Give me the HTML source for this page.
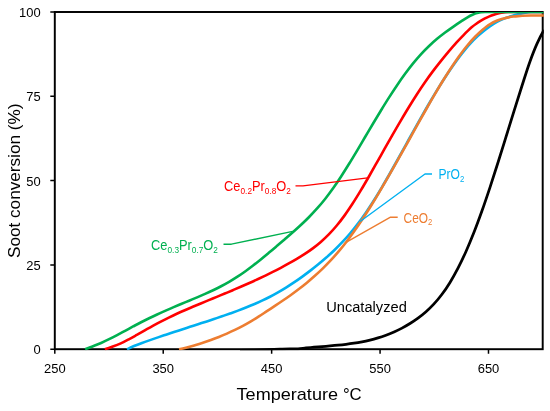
<!DOCTYPE html>
<html><head><meta charset="utf-8"><title>Soot conversion</title>
<style>
html,body{margin:0;padding:0;background:#fff;}
body{width:550px;height:411px;overflow:hidden;font-family:"Liberation Sans",sans-serif;}
svg{display:block;will-change:transform;}
svg text{font-family:"Liberation Sans",sans-serif;}
</style></head><body>
<svg width="550" height="411" viewBox="0 0 550 411">
<rect x="0" y="0" width="550" height="411" fill="#ffffff"/>

<g stroke="#000" fill="none">
<rect x="54.8" y="12" width="487.9" height="337.2" stroke-width="1.95"/>
<path d="M50.3 349.20 H54.8 M50.3 264.90 H54.8 M50.3 180.60 H54.8 M50.3 96.30 H54.8 M50.3 12.00 H54.8 M54.80 349.2 V353.8 M163.22 349.2 V353.8 M271.64 349.2 V353.8 M380.07 349.2 V353.8 M488.49 349.2 V353.8 " stroke-width="1.5"/>
</g>
<defs><clipPath id="pc"><rect x="54.8" y="12.0" width="489.0" height="338.3"/></clipPath></defs>
<g fill="none" stroke-linecap="butt" stroke-linejoin="round" clip-path="url(#pc)">
<path d="M240.00 350.30 C245.00 350.23 250.00 350.12 255.00 350.00 C259.33 349.89 263.67 349.74 268.00 349.60 C272.00 349.47 276.00 349.33 280.00 349.20 C283.33 349.09 286.67 348.96 290.00 348.90 C292.67 348.85 295.33 348.85 298.00 348.79 C300.67 348.72 303.33 348.19 306.00 347.93 C308.67 347.67 311.33 347.44 314.00 347.22 C316.67 346.99 319.33 346.78 322.00 346.57 C324.67 346.35 327.33 346.14 330.00 345.91 C332.67 345.68 335.33 345.45 338.00 345.18 C340.67 344.92 343.33 344.63 346.00 344.30 C348.67 343.98 351.33 343.62 354.00 343.21 C356.67 342.80 359.33 342.34 362.00 341.83 C364.67 341.32 367.33 340.73 370.00 340.09 C372.67 339.45 375.33 338.72 378.00 337.92 C380.67 337.13 383.33 336.23 386.00 335.25 C388.67 334.28 391.33 333.19 394.00 332.02 C396.67 330.84 399.33 329.54 402.00 328.14 C404.67 326.73 407.33 325.20 410.00 323.54 C412.67 321.89 415.33 320.11 418.00 318.16 C420.67 316.21 423.33 314.10 426.00 311.75 C428.67 309.41 431.33 306.81 434.00 303.93 C436.67 301.05 439.33 297.83 442.00 294.28 C444.67 290.73 447.33 286.74 450.00 282.42 C452.67 278.10 455.33 273.27 458.00 268.14 C460.67 263.01 463.33 257.39 466.00 251.45 C468.67 245.50 471.33 239.07 474.00 232.33 C476.67 225.58 479.33 218.31 482.00 210.83 C484.67 203.35 487.33 195.41 490.00 187.37 C492.67 179.33 495.33 170.94 498.00 162.53 C500.67 154.13 503.33 145.49 506.00 136.92 C508.67 128.35 511.33 119.66 514.00 111.13 C516.67 102.61 519.33 94.05 522.00 85.77 C524.67 77.49 527.33 68.77 530.00 61.43 C532.31 55.05 534.63 49.02 536.94 43.88 C539.30 38.66 541.65 33.93 544.00 29.93" stroke="#000000" stroke-width="2.75"/>
<path d="M127.00 349.30 C129.34 348.14 131.67 347.04 134.01 346.05 C136.68 344.92 139.34 343.93 142.01 342.95 C144.68 341.96 147.34 341.04 150.01 340.11 C152.68 339.18 155.34 338.27 158.01 337.36 C160.68 336.46 163.34 335.56 166.01 334.68 C168.68 333.79 171.34 332.92 174.01 332.05 C176.68 331.17 179.34 330.31 182.01 329.45 C184.68 328.58 187.34 327.72 190.01 326.86 C192.68 326.00 195.34 325.14 198.01 324.27 C200.68 323.40 203.34 322.54 206.01 321.66 C208.68 320.79 211.34 319.91 214.01 319.01 C216.68 318.12 219.34 317.22 222.01 316.31 C224.68 315.40 227.34 314.48 230.01 313.53 C232.68 312.59 235.34 311.63 238.01 310.64 C240.68 309.65 243.34 308.64 246.01 307.58 C248.68 306.52 251.34 305.43 254.01 304.28 C256.68 303.14 259.34 301.94 262.01 300.69 C264.68 299.44 267.34 298.13 270.01 296.75 C272.68 295.37 275.34 293.91 278.01 292.39 C280.68 290.87 283.34 289.28 286.01 287.62 C288.68 285.96 291.34 284.23 294.01 282.44 C296.68 280.65 299.34 278.78 302.01 276.86 C304.68 274.94 307.34 272.94 310.01 270.90 C312.68 268.85 315.34 266.74 318.01 264.56 C320.68 262.38 323.34 260.15 326.01 257.81 C328.68 255.47 331.34 253.05 334.01 250.49 C336.68 247.94 339.34 245.27 342.01 242.45 C344.68 239.63 347.34 236.66 350.01 233.52 C352.68 230.39 355.34 227.07 358.01 223.57 C360.68 220.07 363.34 216.34 366.01 212.45 C368.68 208.57 371.34 204.43 374.01 200.21 C376.68 195.98 379.34 191.56 382.01 187.07 C384.68 182.58 387.34 177.93 390.01 173.25 C392.68 168.58 395.34 163.79 398.01 159.00 C400.68 154.22 403.34 149.36 406.01 144.54 C408.68 139.73 411.34 134.88 414.01 130.10 C416.68 125.32 419.34 120.55 422.01 115.86 C424.68 111.18 427.34 106.52 430.01 101.99 C432.68 97.46 435.34 92.98 438.01 88.66 C440.68 84.34 443.34 80.09 446.01 76.03 C448.68 71.97 451.34 68.01 454.01 64.27 C456.68 60.52 459.34 56.91 462.01 53.53 C464.68 50.15 467.34 46.85 470.01 43.93 C472.67 41.02 475.34 38.33 478.00 35.90 C480.67 33.46 483.33 31.23 486.00 29.20 C488.67 27.17 491.33 25.20 494.00 23.60 C496.00 22.40 498.00 21.34 500.00 20.40 C502.00 19.46 504.00 18.64 506.00 17.90 C508.00 17.16 510.00 16.49 512.00 15.90 C514.00 15.31 516.00 14.78 518.00 14.30 C519.67 13.90 521.33 13.52 523.00 13.20 C524.33 12.94 525.67 12.69 527.00 12.50 C528.33 12.31 529.67 12.00 531.00 12.00 C535.33 12.00 539.67 12.00 544.00 12.00" stroke="#00B0F0" stroke-width="2.60"/>
<path d="M179.00 349.30 C181.63 348.83 184.27 348.25 186.90 347.60 C189.57 346.94 192.23 346.10 194.90 345.30 C197.57 344.50 200.23 343.68 202.90 342.80 C205.57 341.92 208.23 340.97 210.90 340.00 C213.57 339.03 216.23 338.01 218.90 336.95 C221.57 335.89 224.23 334.76 226.90 333.60 C229.57 332.44 232.23 331.23 234.90 329.95 C237.57 328.67 240.23 327.32 242.90 325.90 C245.57 324.48 248.23 322.97 250.90 321.40 C253.57 319.83 256.23 318.15 258.90 316.45 C261.56 314.75 264.23 312.94 266.89 311.19 C269.56 309.43 272.22 307.70 274.89 305.93 C277.56 304.16 280.22 302.38 282.89 300.55 C285.56 298.72 288.22 296.86 290.89 294.94 C293.56 293.02 296.22 291.06 298.89 289.02 C301.56 286.98 304.22 284.88 306.89 282.68 C309.56 280.48 312.22 278.21 314.89 275.82 C317.56 273.44 320.22 270.95 322.89 268.35 C325.56 265.74 328.22 263.01 330.89 260.15 C333.56 257.29 336.22 254.29 338.89 251.15 C341.56 248.00 344.22 244.69 346.89 241.23 C349.56 237.76 352.22 234.10 354.89 230.33 C357.56 226.55 360.22 222.60 362.89 218.55 C365.56 214.50 368.22 210.29 370.89 206.01 C373.56 201.73 376.22 197.32 378.89 192.85 C381.56 188.38 384.22 183.80 386.89 179.19 C389.56 174.58 392.22 169.88 394.89 165.17 C397.56 160.45 400.22 155.68 402.89 150.91 C405.56 146.14 408.22 141.33 410.89 136.54 C413.56 131.75 416.22 126.95 418.89 122.19 C421.56 117.44 424.22 112.68 426.89 108.00 C429.56 103.32 432.22 98.66 434.89 94.13 C437.56 89.59 440.22 85.11 442.89 80.78 C445.56 76.46 448.22 72.21 450.89 68.17 C453.56 64.13 456.22 60.18 458.89 56.49 C461.56 52.80 464.22 49.19 466.89 45.96 C469.56 42.73 472.23 39.70 474.90 37.00 C477.57 34.30 480.23 31.91 482.90 29.60 C484.03 28.62 485.17 27.64 486.30 26.80 C487.73 25.73 489.17 24.75 490.60 23.90 C492.07 23.03 493.53 22.23 495.00 21.55 C496.47 20.87 497.93 20.26 499.40 19.75 C500.87 19.24 502.33 18.78 503.80 18.40 C505.33 18.00 506.87 17.64 508.40 17.35 C510.10 17.03 511.80 16.76 513.50 16.55 C515.00 16.37 516.50 16.22 518.00 16.10 C519.43 15.98 520.87 15.86 522.30 15.80 C525.20 15.68 528.10 15.57 531.00 15.55 C535.33 15.52 539.67 15.50 544.00 15.50" stroke="#ED7D31" stroke-width="2.60"/>
<path d="M104.80 349.30 C107.47 348.46 110.13 347.55 112.80 346.57 C115.47 345.60 118.13 344.60 120.80 343.41 C123.47 342.22 126.13 340.74 128.80 339.33 C131.47 337.92 134.13 336.41 136.80 334.92 C139.47 333.43 142.13 331.89 144.80 330.38 C147.47 328.87 150.13 327.34 152.80 325.88 C155.47 324.41 158.13 322.95 160.80 321.57 C163.47 320.18 166.13 318.84 168.80 317.55 C171.47 316.25 174.13 315.00 176.80 313.78 C179.47 312.55 182.13 311.37 184.80 310.21 C187.47 309.04 190.13 307.91 192.80 306.78 C195.47 305.65 198.13 304.55 200.80 303.44 C203.47 302.34 206.13 301.24 208.80 300.15 C211.47 299.05 214.13 297.95 216.80 296.85 C219.47 295.75 222.13 294.66 224.80 293.55 C227.47 292.44 230.13 291.32 232.80 290.19 C235.47 289.07 238.13 287.93 240.80 286.77 C243.47 285.62 246.13 284.45 248.80 283.26 C251.47 282.07 254.13 280.87 256.80 279.63 C259.47 278.40 262.13 277.15 264.80 275.87 C267.47 274.58 270.13 273.27 272.80 271.93 C275.47 270.59 278.13 269.22 280.80 267.81 C283.47 266.40 286.13 264.96 288.80 263.47 C291.47 261.99 294.13 260.48 296.80 258.89 C299.47 257.30 302.13 255.68 304.80 253.93 C307.47 252.18 310.13 250.35 312.80 248.36 C315.47 246.37 318.13 244.24 320.80 241.93 C323.47 239.62 326.13 237.12 328.80 234.40 C331.47 231.69 334.13 228.73 336.80 225.53 C339.47 222.34 342.13 218.81 344.80 215.12 C347.47 211.43 350.13 207.41 352.80 203.30 C355.47 199.19 358.13 194.83 360.80 190.40 C363.47 185.98 366.13 181.37 368.80 176.74 C371.47 172.11 374.13 167.36 376.80 162.63 C379.47 157.91 382.13 153.13 384.80 148.41 C387.47 143.69 390.13 138.97 392.80 134.33 C395.47 129.68 398.13 125.06 400.80 120.55 C403.47 116.03 406.13 111.56 408.80 107.22 C411.47 102.88 414.13 98.61 416.80 94.49 C419.47 90.37 422.13 86.35 424.80 82.51 C427.47 78.66 430.13 74.95 432.80 71.40 C435.47 67.84 438.13 64.47 440.80 61.14 C443.47 57.81 446.13 54.56 448.80 51.40 C451.40 48.32 454.00 45.25 456.60 42.40 C458.77 40.03 460.93 37.84 463.10 35.60 C464.57 34.08 466.03 32.51 467.50 31.10 C468.97 29.69 470.43 28.32 471.90 27.10 C473.37 25.88 474.83 24.78 476.30 23.75 C477.73 22.74 479.17 21.83 480.60 20.95 C482.07 20.05 483.53 19.16 485.00 18.40 C486.47 17.64 487.93 16.95 489.40 16.35 C490.87 15.75 492.33 15.23 493.80 14.75 C495.20 14.29 496.60 13.86 498.00 13.50 C499.17 13.20 500.33 12.91 501.50 12.70 C502.67 12.49 503.83 12.30 505.00 12.20 C506.17 12.10 507.33 12.00 508.50 12.00 C520.33 12.00 532.17 12.00 544.00 12.00" stroke="#FF0000" stroke-width="2.60"/>
<path d="M85.10 349.30 C87.77 348.30 90.43 347.27 93.10 346.21 C95.77 345.15 98.43 344.10 101.10 342.94 C103.77 341.77 106.43 340.48 109.10 339.18 C111.77 337.87 114.43 336.48 117.10 335.08 C119.77 333.69 122.43 332.23 125.10 330.80 C127.77 329.37 130.43 327.90 133.10 326.48 C135.77 325.06 138.43 323.63 141.10 322.27 C143.77 320.90 146.43 319.57 149.10 318.27 C151.77 316.97 154.43 315.72 157.10 314.49 C159.77 313.25 162.43 312.06 165.10 310.87 C167.77 309.69 170.43 308.54 173.10 307.40 C175.77 306.25 178.43 305.13 181.10 304.01 C183.77 302.89 186.43 301.79 189.10 300.68 C191.77 299.57 194.43 298.47 197.10 297.34 C199.77 296.21 202.43 295.08 205.10 293.90 C207.77 292.72 210.43 291.51 213.10 290.24 C215.77 288.97 218.43 287.66 221.10 286.27 C223.77 284.88 226.43 283.42 229.10 281.88 C231.77 280.33 234.43 278.68 237.10 276.96 C239.77 275.23 242.43 273.38 245.10 271.47 C247.77 269.57 250.43 267.56 253.10 265.51 C255.77 263.47 258.43 261.34 261.10 259.18 C263.77 257.03 266.43 254.81 269.10 252.59 C271.77 250.37 274.43 248.10 277.10 245.83 C279.77 243.57 282.43 241.31 285.10 239.02 C287.77 236.72 290.43 234.44 293.10 232.08 C295.77 229.71 298.43 227.32 301.10 224.82 C303.77 222.31 306.43 219.74 309.10 217.02 C311.77 214.30 314.43 211.47 317.10 208.47 C319.77 205.47 322.43 202.31 325.10 198.96 C327.77 195.60 330.43 192.02 333.10 188.28 C335.77 184.54 338.43 180.55 341.10 176.47 C343.77 172.40 346.43 168.12 349.10 163.80 C351.77 159.49 354.43 155.02 357.10 150.56 C359.77 146.10 362.43 141.54 365.10 137.03 C367.77 132.52 370.43 127.96 373.10 123.49 C375.77 119.02 378.43 114.57 381.10 110.22 C383.77 105.88 386.43 101.58 389.10 97.42 C391.77 93.26 394.43 89.16 397.10 85.24 C399.77 81.32 402.43 77.48 405.10 73.85 C407.77 70.22 410.43 66.69 413.10 63.41 C415.77 60.12 418.43 56.97 421.10 54.07 C423.77 51.17 426.43 48.46 429.10 45.94 C431.77 43.41 434.43 41.06 437.10 38.83 C439.77 36.61 442.43 34.54 445.10 32.54 C447.77 30.54 450.43 28.66 453.10 26.82 C455.77 24.97 458.43 23.19 461.10 21.43 C463.23 20.03 465.37 18.53 467.50 17.32 C469.17 16.38 470.83 15.50 472.50 14.78 C474.00 14.12 475.50 13.46 477.00 13.05 C478.33 12.69 479.67 12.31 481.00 12.20 C482.33 12.09 483.67 12.00 485.00 12.00 C504.67 12.00 524.33 12.00 544.00 12.00" stroke="#00B050" stroke-width="2.60"/>
</g>
<g fill="none" stroke-width="1.35" stroke-linejoin="round">
<polyline points="223.5,244.2 231.4,244.2 292.7,231.4" stroke="#00B050"/>
<polyline points="295.5,185.8 303,185.8 367.7,177.8" stroke="#FF0000"/>
<polyline points="432,174 425,174 360.1,221.5" stroke="#00B0F0"/>
<polyline points="397.7,217.2 390.5,217.2 346.0,242.4" stroke="#ED7D31"/>
</g>
<g font-size="13.6" fill="#000" lengthAdjust="spacingAndGlyphs">
<text x="33.50" y="354.10" textLength="7.20" lengthAdjust="spacingAndGlyphs">0</text>
<text x="26.30" y="269.80" textLength="14.40" lengthAdjust="spacingAndGlyphs">25</text>
<text x="26.30" y="185.50" textLength="14.40" lengthAdjust="spacingAndGlyphs">50</text>
<text x="26.30" y="101.20" textLength="14.40" lengthAdjust="spacingAndGlyphs">75</text>
<text x="19.10" y="16.90" textLength="21.60" lengthAdjust="spacingAndGlyphs">100</text>
<text x="44.00" y="373.4" textLength="21.6" lengthAdjust="spacingAndGlyphs">250</text>
<text x="152.42" y="373.4" textLength="21.6" lengthAdjust="spacingAndGlyphs">350</text>
<text x="260.84" y="373.4" textLength="21.6" lengthAdjust="spacingAndGlyphs">450</text>
<text x="369.27" y="373.4" textLength="21.6" lengthAdjust="spacingAndGlyphs">550</text>
<text x="477.69" y="373.4" textLength="21.6" lengthAdjust="spacingAndGlyphs">650</text>
</g>
<text x="236.6" y="400.4" font-size="16.6" fill="#000" textLength="101.4" lengthAdjust="spacingAndGlyphs">Temperature</text><text x="342.9" y="400.4" font-size="16.6" fill="#000" textLength="18.8" lengthAdjust="spacingAndGlyphs">°C</text>
<text transform="translate(20 258) rotate(-90)" x="0" y="0" font-size="16.6" fill="#000" textLength="154.4" lengthAdjust="spacingAndGlyphs">Soot conversion (%)</text>
<text x="326.2" y="311.6" font-size="13.8" fill="#000" textLength="80.6" lengthAdjust="spacingAndGlyphs">Uncatalyzed</text>
<text x="151.10" y="250.00" font-size="13.80" fill="#00B050" textLength="66.80" lengthAdjust="spacingAndGlyphs"><tspan dy="0.00">Ce</tspan><tspan font-size="8.90" dy="2.90">0.3</tspan><tspan dy="-2.90">Pr</tspan><tspan font-size="8.90" dy="2.90">0.7</tspan><tspan dy="-2.90">O</tspan><tspan font-size="8.90" dy="2.90">2</tspan></text>
<text x="224.10" y="191.30" font-size="13.80" fill="#FF0000" textLength="66.80" lengthAdjust="spacingAndGlyphs"><tspan dy="0.00">Ce</tspan><tspan font-size="8.90" dy="2.90">0.2</tspan><tspan dy="-2.90">Pr</tspan><tspan font-size="8.90" dy="2.90">0.8</tspan><tspan dy="-2.90">O</tspan><tspan font-size="8.90" dy="2.90">2</tspan></text>
<text x="438.50" y="179.30" font-size="13.80" fill="#00B0F0" textLength="25.80" lengthAdjust="spacingAndGlyphs"><tspan dy="0.00">Pr</tspan><tspan dy="0.00">O</tspan><tspan font-size="8.90" dy="2.90">2</tspan></text>
<text x="403.60" y="222.50" font-size="13.80" fill="#ED7D31" textLength="28.70" lengthAdjust="spacingAndGlyphs"><tspan dy="0.00">Ce</tspan><tspan dy="0.00">O</tspan><tspan font-size="8.90" dy="2.90">2</tspan></text>
</svg>
</body></html>
